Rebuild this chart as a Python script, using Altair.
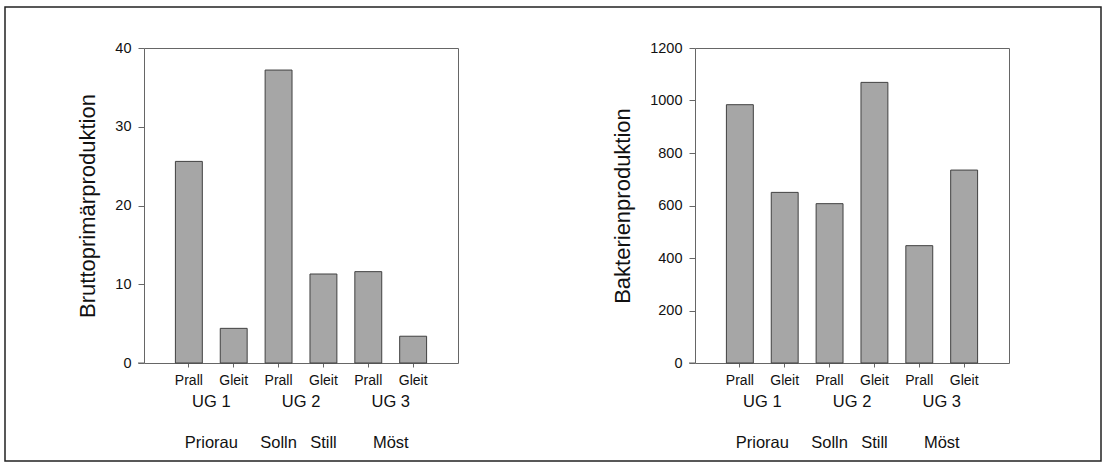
import altair as alt
import pandas as pd

groups = ["UG 1", "UG 2", "UG 3"]
sides = ["Prall", "Gleit"]
brutto = [25.6, 4.4, 37.2, 11.3, 11.6, 3.4]
bakterien = [984, 650, 607, 1069, 447, 735]
centered_sites = ["Priorau", "Möst"]
centered_site_groups = ["UG 1", "UG 3"]
split_sites = ["Solln", "Still"]
split_site_bars = ["UG 2 Prall", "UG 2 Gleit"]
brutto_ticks = [0, 10, 20, 30, 40]
bakterien_ticks = [0, 200, 400, 600, 800, 1000, 1200]

keys = [f"{g} {s}" for g in groups for s in sides]
bars = pd.DataFrame({"bar": keys, "brutto": brutto, "bakterien": bakterien})
group_df = pd.DataFrame({"bar": [f"{g} Prall" for g in groups], "label": groups})
csite_df = pd.DataFrame({"bar": [f"{g} Prall" for g in centered_site_groups], "label": centered_sites})
ssite_df = pd.DataFrame({"bar": split_site_bars, "label": split_sites})
one = pd.DataFrame({"k": [0]})

W, H = 314, 315
FONT = "Liberation Sans"
TXT = "#111111"

xenc = alt.X(
    "bar:N",
    sort=keys,
    scale=alt.Scale(domain=keys, paddingInner=0.4, paddingOuter=0.7),
    axis=alt.Axis(
        title=None,
        labelExpr="split(datum.label, ' ')[2]",
        labelAngle=0,
        labelFontSize=14,
        labelPadding=6,
        tickSize=4,
        tickColor="#666",
        domain=False,
        labelColor=TXT,
    ),
)


def panel(field, title, domain, ticks, frame=False):
    yenc = alt.Y(
        f"{field}:Q",
        scale=alt.Scale(domain=domain, nice=False, zero=True),
        axis=alt.Axis(
            values=ticks,
            format="d",
            title=title,
            titleFontSize=22,
            titleFontWeight="normal",
            titleColor=TXT,
            titlePadding=15,
            labelFontSize=14.5,
            labelColor=TXT,
            labelPadding=7,
            tickSize=6,
            tickColor="#666",
            grid=False,
            domain=False,
        ),
    )
    b = alt.Chart(bars).mark_bar(fill="#a6a6a6", stroke="#404040", strokeWidth=1).encode(
        x=xenc, y=yenc
    )
    g = alt.Chart(group_df).mark_text(
        dx=22.5, fontSize=16.5, baseline="middle", align="center", color=TXT
    ).encode(x=xenc, y=alt.value(354), text="label:N")
    cs = alt.Chart(csite_df).mark_text(
        dx=22.5, fontSize=16.5, baseline="middle", align="center", color=TXT
    ).encode(x=xenc, y=alt.value(395), text="label:N")
    ss = alt.Chart(ssite_df).mark_text(
        fontSize=16.5, baseline="middle", align="center", color=TXT
    ).encode(x=xenc, y=alt.value(395), text="label:N")
    ext = alt.Chart(one).mark_rule(color="#666", strokeWidth=1).encode(
        x=alt.value(-6), x2=alt.value(0), y=alt.value(H)
    )
    layers = [b, g, cs, ss, ext]
    if frame:
        fr = alt.Chart(one).mark_rect(
            fillOpacity=0, stroke="#222", strokeWidth=1.5
        ).encode(
            x=alt.value(-139), x2=alt.value(957), y=alt.value(-41), y2=alt.value(413)
        )
        layers.append(fr)
    return alt.layer(*layers).properties(width=W, height=H)


left = panel("brutto", "Bruttoprimärproduktion", [0, 40], brutto_ticks, frame=True)
right = panel("bakterien", "Bakterienproduktion", [0, 1200], bakterien_ticks)

chart = (
    alt.hconcat(left, right, spacing=237, bounds="flush")
    .properties(padding={"left": 3, "top": 5, "right": 0, "bottom": 0})
    .configure(font=FONT)
    .configure_view(stroke="#666", strokeWidth=1)
    .configure_text(font=FONT)
)

chart.save("out.html", embed_options={"renderer": "svg", "actions": False})
